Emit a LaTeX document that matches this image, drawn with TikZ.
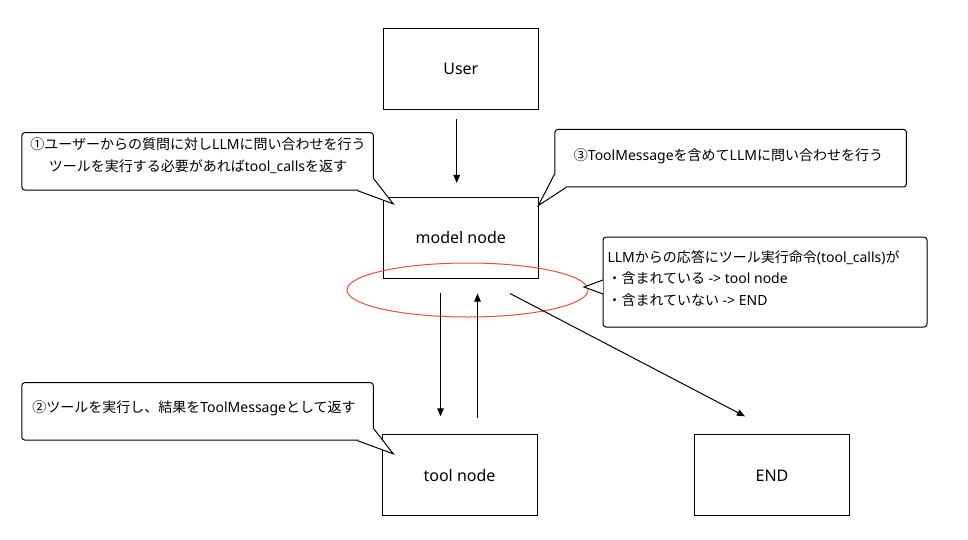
\documentclass[tikz,border=0pt]{standalone}
\usepackage{fontspec}
\setmainfont{Noto Sans}
\newfontfamily\jp{Noto Sans CJK JP}
\usetikzlibrary{arrows.meta,shapes.geometric}
\definecolor{ER}{RGB}{232,76,61}
\tikzset{
    BX/.style ={rectangle,minimum width = 155pt, minimum height = 81pt, draw, font=\fontsize{16}{19}\selectfont},
    CO/.style ={rectangle,rounded corners=3pt,minimum width = 351.5pt, minimum height = 57.5pt, draw, fill=white},
    NT/.style ={rectangle,rounded corners=3pt,minimum width = 324pt, minimum height = 90pt, draw, fill=white},
    TX/.style ={inner sep=0pt, align=center, font=\fontsize{14}{22}\selectfont},
    TL/.style ={draw, fill=white, line join=miter},
    AR/.style ={-{Triangle[length=8pt,width=6.5pt]}}}

\begin{document}
\begin{tikzpicture}[x=1pt,y=-1pt,line width=1pt]
        \useasboundingbox (0,0) rectangle (968,540);
        \node[BX] (1) at(460.8,68.8){User};
        \node[BX] (2) at(460.8,237.5){model node};
        \node[BX] (3) at(459.5,475.3){tool node};
        \node[BX] (4) at(772,475.3){END};
        \node[draw=ER, ellipse, minimum width=241pt, minimum height=54pt] (9) at(467.5,290){};
        \draw[AR,shorten <=9.5pt,shorten >=13.5pt] ([xshift=-4.1pt]1.south) --([xshift=-4.1pt]2.north);
        \draw[AR,shorten <=14pt,shorten >=18pt] ([xshift=-20.3pt]2.south) --([xshift=-20.3pt]2.south |- 3.north);
        \draw[AR,shorten <=16pt,shorten >=15pt] ([xshift=18pt]3.north) --([xshift=18pt]3.north |- 2.south);
        \draw[AR,shorten <=32.4pt,shorten >=38.8pt] ([xshift=20.5pt]2.south) --([xshift=7.4pt]4.north);
        \node[CO] (5) at(197.6,161.3){};
        \draw[TL] ([xshift=-16.6pt]5.south east) --([xshift=19.4pt,yshift=-13.3pt]5.south east) --([yshift=11.7pt]5.south east);
        \node[TX] (5t) at(198,156){{\jp ①ユーザーからの質問に対し}LLM{\jp に問い合わせを行う}\\{\jp ツールを実行する必要があれば}tool\_calls{\jp を返す}};
        \node[CO] (6) at(197.6,411.3){};
        \draw[TL] ([xshift=-16.6pt]6.south east) --([xshift=19.4pt,yshift=-13.3pt]6.south east) --([yshift=11.7pt]6.south east);
        \node[TX] (6t) at(194,408){{\jp ②ツールを実行し、結果を}ToolMessage{\jp として返す}};
        \node[CO] (7) at(730.7,158.2){};
        \draw[TL] ([yshift=13.3pt]7.south west) --([xshift=-16pt,yshift=-18pt]7.south west) --([xshift=11.7pt]7.south west);
        \node[TX] (7t) at(728.5,156){{\jp ③}ToolMessage{\jp を含めて}LLM{\jp に問い合わせを行う}};
        \node[NT] (8) at(765,282){};
        \draw[TL] ([xshift=0.5pt,yshift=2pt]8.west) --([xshift=-4.5pt,yshift=3pt]9.east) --([xshift=0.5pt,yshift=-12pt]8.west);
        \node[TX, align=left, anchor=west, font=\fontsize{14}{21.5}\selectfont] (8t) at(607,278.5){LLM{\jp からの応答にツール実行命令}(tool\_calls){\jp が}\\{\jp ・含まれている} -> tool node\\{\jp ・含まれていない} -> END};
    \end{tikzpicture}
\end{document}
